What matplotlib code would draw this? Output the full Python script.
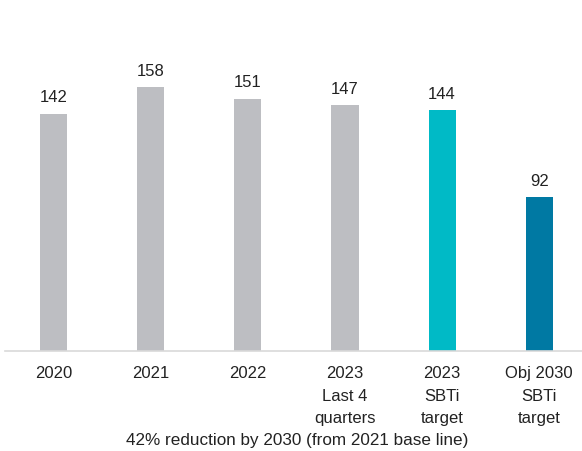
import matplotlib
matplotlib.use("Agg")
import matplotlib.pyplot as plt

categories = ["2020", "2021", "2022", "2023\nLast 4\nquarters", "2023\nSBTi\ntarget", "Obj 2030\nSBTi\ntarget"]
values = [142, 158, 151, 147, 144, 92]
colors = ["#BDBEC2", "#BDBEC2", "#BDBEC2", "#BDBEC2", "#00BAC6", "#0079A3"]
caption = "42% reduction by 2030 (from 2021 base line)"

plt.rcParams['font.family'] = ['Liberation Sans', 'DejaVu Sans']

fig = plt.figure(figsize=(5.82, 4.51), dpi=100)
ax = fig.add_axes([5/582, 100/451, 577/582, 351/451])
x = list(range(len(values)))
ax.bar(x, values, width=0.28, color=colors)
for xi, v in zip(x, values):
    ax.annotate(str(v), (xi, v), xytext=(0, 6), textcoords="offset points",
                ha="center", va="bottom", fontsize=12, color="#222222")
ax.set_xlim(-0.5, 5.44)
ax.set_ylim(0, 210)
ax.set_yticks([])
ax.set_xticks(x)
ax.set_xticklabels(categories, fontsize=12, color="#222222", linespacing=1.62)
ax.tick_params(axis="x", length=0, pad=11)
for s in ["top", "right", "left"]:
    ax.spines[s].set_visible(False)
ax.spines["bottom"].set_color("#D9D9D9")
ax.spines["bottom"].set_linewidth(1.2)
fig.text(297 / 582, 1 - 440/451, caption, ha="center", va="center",
         fontsize=12.3, color="#222222")
fig.savefig("out.png", dpi=100)
